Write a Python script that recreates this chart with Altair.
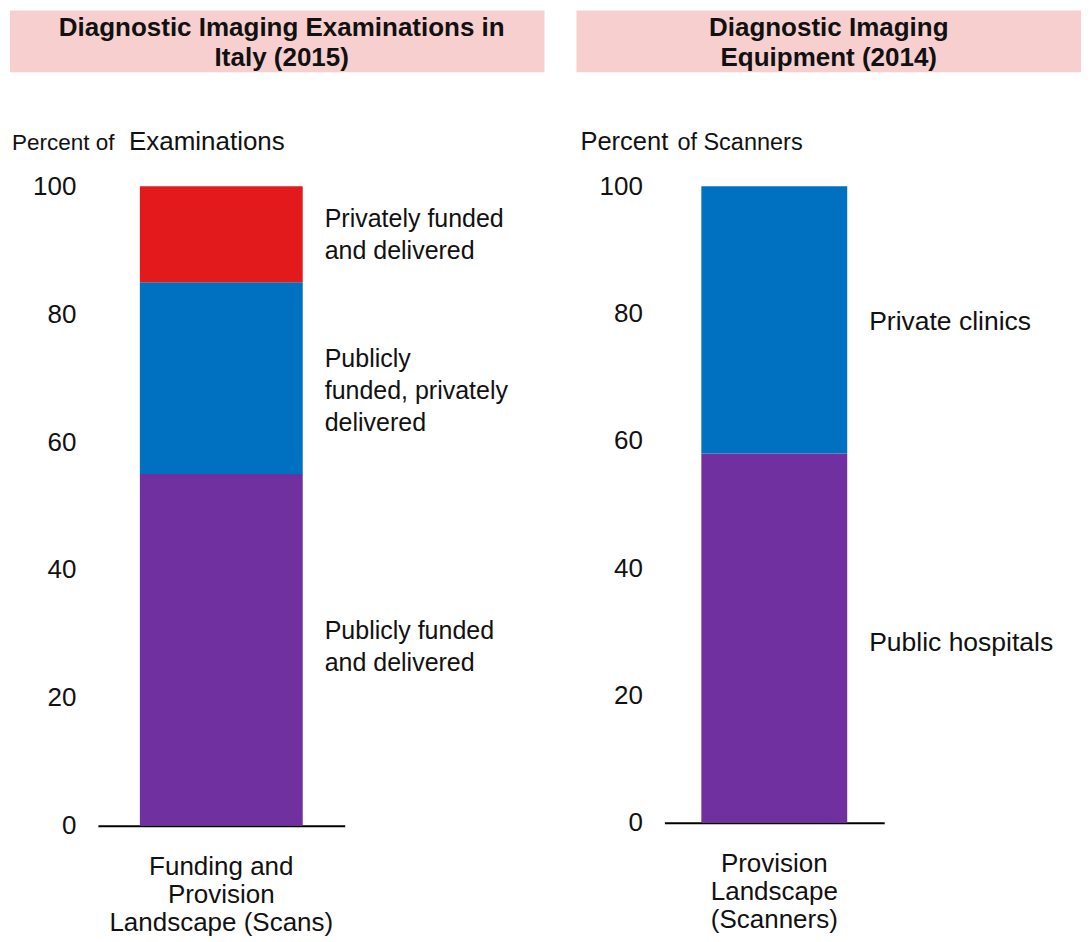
import altair as alt
import pandas as pd

FONT = "Liberation Sans"

left_title = "Diagnostic Imaging Examinations in\nItaly (2015)"
right_title = "Diagnostic Imaging\nEquipment (2014)"
left_category = "Funding and|Provision|Landscape (Scans)"
right_category = "Provision|Landscape|(Scanners)"
left_segments = ["Publicly funded\nand delivered",
                 "Publicly\nfunded, privately\ndelivered",
                 "Privately funded\nand delivered"]
left_values = [55, 30, 15]
right_segments = ["Public hospitals", "Private clinics"]
right_values = [58, 42]
left_colors = ["#7030A0", "#0070C0", "#E31A1C"]
right_colors = ["#7030A0", "#0070C0"]
y_ticks = [0, 20, 40, 60, 80, 100]
left_ytitle = ["Percent of", "Examinations"]
right_ytitle = ["Percent", "of Scanners"]

PINK = "#F8CFCF"


def stack(cat, segs, vals):
    rows, start = [], 0
    for i, (s, v) in enumerate(zip(segs, vals)):
        rows.append(dict(cat=cat, seg=s, start=start, end=start + v,
                         mid=start + v / 2, order=i))
        start += v
    return pd.DataFrame(rows)


def panel(df, segs, colors, width, height, bar_size, label_x, title, title_x,
          box_right, ytitle, ytitle_sizes, ytitle_x, label_dy, label_size):
    one = pd.DataFrame({"a": [0]})
    box = alt.Chart(one).mark_rect(color=PINK).encode(
        x=alt.value(-88), x2=alt.value(box_right),
        y=alt.value(-176), y2=alt.value(-114))
    ttl = alt.Chart(one).mark_text(
        font=FONT, fontSize=26, fontWeight="bold", color="#111",
        lineBreak="\n", lineHeight=30, align="center", baseline="middle"
    ).encode(x=alt.value(title_x), y=alt.value(-158),
             text=alt.value(title))
    yt1 = alt.Chart(one).mark_text(
        font=FONT, fontSize=ytitle_sizes[0], color="#111", align="left",
        baseline="alphabetic").encode(x=alt.value(ytitle_x[0]), y=alt.value(-36),
                                      text=alt.value(ytitle[0]))
    yt2 = alt.Chart(one).mark_text(
        font=FONT, fontSize=ytitle_sizes[1], color="#111", align="left",
        baseline="alphabetic").encode(x=alt.value(ytitle_x[1]), y=alt.value(-36),
                                      text=alt.value(ytitle[1]))
    bars = alt.Chart(df).mark_bar(size=bar_size).encode(
        x=alt.X("cat:N", title=None,
                axis=alt.Axis(labelExpr="split(datum.label, '|')", labelAngle=0,
                              domain=True, domainColor="#000", domainWidth=2,
                              ticks=False, labelPadding=28, labelFontSize=26,
                              labelLineHeight=28, labelFont=FONT, labelLimit=0,
                              labelColor="#111")),
        y=alt.Y("start:Q", title=None,
                scale=alt.Scale(domain=[0, 100], nice=False),
                axis=alt.Axis(values=y_ticks, grid=False, domain=False,
                              ticks=False, labelPadding=22, labelFontSize=26,
                              labelFont=FONT, labelColor="#111")),
        y2="end:Q",
        color=alt.Color("seg:N", scale=alt.Scale(domain=segs, range=colors),
                        legend=None),
    )
    layers = [box, ttl, yt1, yt2, bars]
    for s, dy in zip(segs, label_dy):
        layers.append(
            alt.Chart(df).transform_filter(alt.datum.seg == s).mark_text(
                font=FONT, fontSize=label_size, color="#111", align="left",
                baseline="middle", lineBreak="\n", lineHeight=32, dy=dy
            ).encode(x=alt.value(label_x), y=alt.Y("mid:Q"), text="seg:N"))
    return alt.layer(*layers).properties(width=width, height=height)


left = panel(stack(left_category, left_segments, left_values), left_segments,
             left_colors, 247, 640, 163, 227, left_title, 184, 447, left_ytitle,
             [22.5, 26], [-86, 31], [-19, -19, -15], 25)
right = panel(stack(right_category, right_segments, right_values),
              right_segments, right_colors, 220, 637, 146, 205, right_title,
              164.5, 417, right_ytitle, [25.5, 23.5], [-84, 13], [5, 2], 26.5)

chart = alt.hconcat(left, right, spacing=32).properties(padding=2).configure_view(
    stroke=None)

chart.save("out.html", embed_options={"renderer": "svg", "actions": False})
